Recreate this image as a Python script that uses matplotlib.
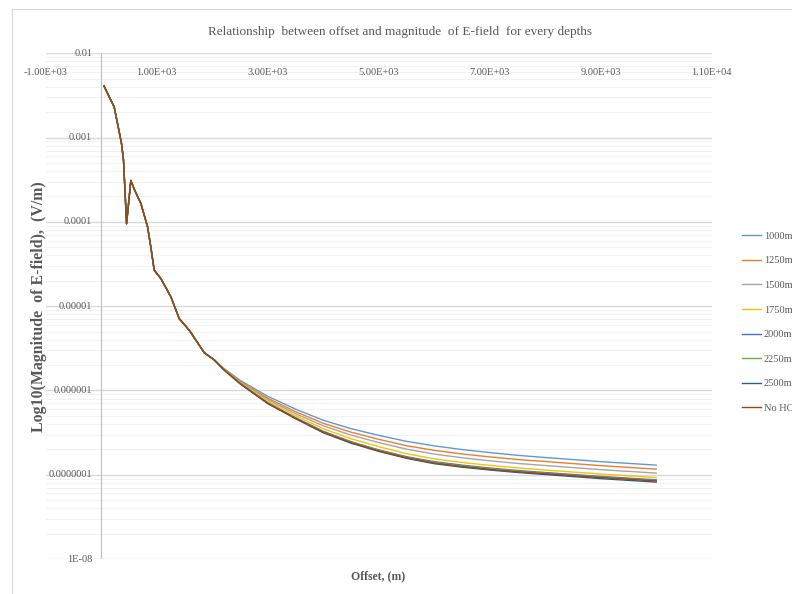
import matplotlib
matplotlib.use('Agg')
import matplotlib.pyplot as plt
from matplotlib.patches import Rectangle


# shared part of the curve (all depths overlap here)
offset_head = [50, 233, 294, 366, 402, 457, 534, 600, 715, 836, 895, 955,
               1076, 1256, 1406, 1585, 1857, 2038]
efield_head = [4.1e-3, 2.31e-3, 1.47e-3, 8.5e-4, 5.4e-4, 9.5e-5, 3.1e-4,
               2.4e-4, 1.65e-4, 8.7e-5, 5.0e-5, 2.67e-5, 2.12e-5, 1.29e-5,
               7.1e-6, 5.2e-6, 2.8e-6, 2.3e-6]

# tail part where the depths separate
offset_tail = [2200, 2500, 3000, 3500, 4000, 4500, 5000, 5500, 6000, 6500, 7000, 7500, 8000, 9000, 10000]
tail_1000 = [1.85e-6, 1.32e-6, 8.53e-7, 6.01e-7, 4.43e-7, 3.52e-7, 2.93e-7, 2.49e-7,
             2.20e-7, 1.99e-7, 1.83e-7, 1.70e-7, 1.60e-7, 1.43e-7, 1.30e-7]
tail_1250 = [1.825e-6, 1.284e-6, 8.08e-7, 5.61e-7, 4.08e-7, 3.20e-7, 2.63e-7, 2.21e-7,
             1.945e-7, 1.765e-7, 1.627e-7, 1.516e-7, 1.434e-7, 1.282e-7, 1.165e-7]
tail_1500 = [1.81e-6, 1.257e-6, 7.75e-7, 5.31e-7, 3.81e-7, 2.955e-7, 2.406e-7, 2.012e-7,
             1.758e-7, 1.59e-7, 1.463e-7, 1.362e-7, 1.286e-7, 1.149e-7, 1.045e-7]
tail_1750 = [1.80e-6, 1.233e-6, 7.44e-7, 5.03e-7, 3.51e-7, 2.678e-7, 2.152e-7, 1.779e-7,
             1.542e-7, 1.399e-7, 1.29e-7, 1.205e-7, 1.137e-7, 1.019e-7, 9.26e-8]
tail_2000 = [1.79e-6, 1.216e-6, 7.14e-7, 4.76e-7, 3.28e-7, 2.468e-7, 1.971e-7, 1.639e-7,
             1.429e-7, 1.299e-7, 1.201e-7, 1.122e-7, 1.062e-7, 9.54e-8, 8.70e-8]
tail_2250 = [1.785e-6, 1.21e-6, 7.04e-7, 4.70e-7, 3.22e-7, 2.427e-7, 1.945e-7, 1.608e-7,
             1.394e-7, 1.271e-7, 1.176e-7, 1.098e-7, 1.039e-7, 9.34e-8, 8.51e-8]
tail_2500 = [1.781e-6, 1.203e-6, 6.99e-7, 4.63e-7, 3.15e-7, 2.368e-7, 1.893e-7, 1.565e-7,
             1.353e-7, 1.23e-7, 1.138e-7, 1.063e-7, 1.006e-7, 8.99e-8, 8.17e-8]
tail_nohc = [1.785e-6, 1.21e-6, 7.04e-7, 4.67e-7, 3.19e-7, 2.401e-7, 1.918e-7, 1.586e-7,
             1.371e-7, 1.251e-7, 1.156e-7, 1.083e-7, 1.028e-7, 9.24e-8, 8.44e-8]

labels = ['1000m', '1250m', '1500m', '1750m', '2000m', '2250m', '2500m', 'No HC']
tails = [tail_1000, tail_1250, tail_1500, tail_1750, tail_2000, tail_2250, tail_2500, tail_nohc]
colors = ['#5B9BD5', '#ED7D31', '#A5A5A5', '#FFC000', '#4472C4', '#70AD47', '#255E91', '#9E480E']

x_ticks = [-1000, 1000, 3000, 5000, 7000, 9000, 11000]
x_ticklabels = ['-1.00E+03', '1.00E+03', '3.00E+03', '5.00E+03', '7.00E+03', '9.00E+03', '1.10E+04']
y_ticks = [1e-2, 1e-3, 1e-4, 1e-5, 1e-6, 1e-7, 1e-8]
y_ticklabels = ['0.01', '0.001', '0.0001', '0.00001', '0.000001', '0.0000001', '1E-08']


def main():
    plt.rcParams['font.family'] = ['Liberation Serif', 'DejaVu Serif']
    grey = '#595959'

    fig = plt.figure(figsize=(7.92, 5.94), dpi=100)
    fig.patches.append(Rectangle((0.0148, -0.1), 1.2, 1.0843, transform=fig.transFigure,
                                 fill=False, edgecolor='#D9D9D9', linewidth=0.8))
    ax = fig.add_axes([0.0577, 0.0589, 0.8409, 0.8514])

    for lab, tail, col in zip(labels, tails, colors):
        ax.plot(offset_head + offset_tail, efield_head + tail, color=col, lw=1.0, label=lab, zorder=3)

    ax.set_yscale('log')
    ax.set_xlim(-1000, 11000)
    ax.set_ylim(1e-8, 1e-2)
    for s in ax.spines.values():
        s.set_visible(False)
    ax.set_xticks([])
    ax.set_yticks([])
    ax.set_yticks([], minor=True)

    # gridlines drawn by hand so that they sit behind the labels like Excel
    for dec in range(-8, -2):
        for m in range(2, 10):
            ax.axhline(m * 10.0 ** dec, color='#F2F2F2', lw=0.8, zorder=1)
    for v in y_ticks:
        ax.axhline(v, color='#D9D9D9', lw=1.0, zorder=1)
    ax.axvline(0, color='#BFBFBF', lw=0.8, zorder=2)

    for v, t in zip(x_ticks, x_ticklabels):
        ax.annotate(t, xy=(v, 1), xycoords=('data', 'axes fraction'), xytext=(0, -13.8),
                    textcoords='offset points', ha='center', va='center', fontsize=7.5, color=grey)
    for v, t in zip(y_ticks, y_ticklabels):
        ax.annotate(t, xy=(0, v), xytext=(-6.5, 0), textcoords='offset points',
                    ha='right', va='center', fontsize=7.5, color=grey)

    fig.text(0.505, 0.946, 'Relationship  between offset and magnitude  of E-field  for every depths',
             ha='center', va='center', fontsize=9.5, color=grey)
    fig.text(0.049, 0.483, 'Log10(Magnitude  of E-field),  (V/m)', rotation=90,
             ha='center', va='center', fontsize=11.4, fontweight='bold', color=grey)
    fig.text(0.477, 0.029, 'Offset, (m)', ha='center', va='center',
             fontsize=8.5, fontweight='bold', color=grey)

    fig.legend(loc='upper left', bbox_to_anchor=(742.3 / 792, 1 - 231.5 / 594),
               frameon=False, fontsize=7.5, handlelength=1.83, handletextpad=0.25,
               labelspacing=1.47, borderpad=0, borderaxespad=0, labelcolor=grey)

    fig.savefig('out.png', dpi=100)


if __name__ == '__main__':
    main()
